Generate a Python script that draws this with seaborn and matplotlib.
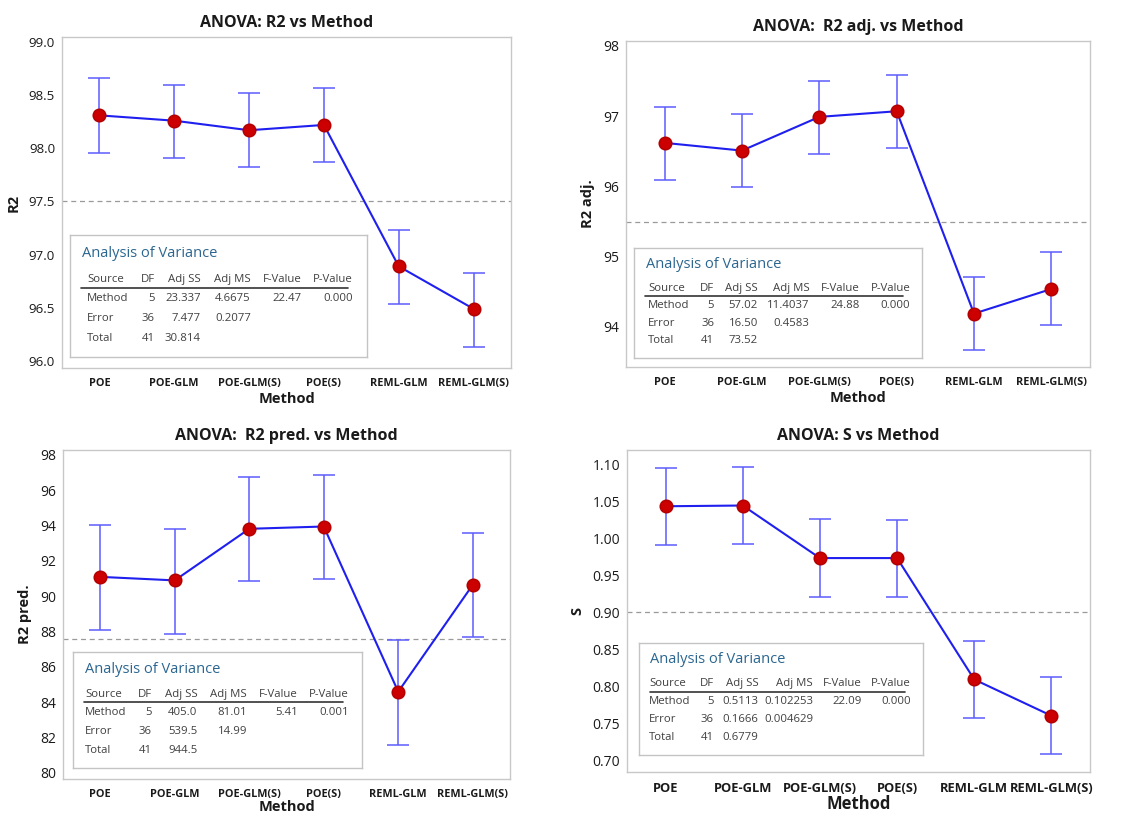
import numpy as np
import matplotlib
matplotlib.use("Agg")
import matplotlib.pyplot as plt
import seaborn as sns

# ---------------- data ----------------
methods = ["POE", "POE-GLM", "POE-GLM(S)", "POE(S)", "REML-GLM", "REML-GLM(S)"]

r2_mean = [98.31, 98.26, 98.17, 98.22, 96.89, 96.49]
r2_lo = [97.96, 97.91, 97.82, 97.87, 96.54, 96.13]
r2_hi = [98.66, 98.60, 98.52, 98.57, 97.23, 96.83]
r2_ref = 97.50

r2adj_mean = [96.62, 96.51, 96.99, 97.07, 94.19, 94.54]
r2adj_lo = [96.09, 95.99, 96.46, 96.54, 93.67, 94.03]
r2adj_hi = [97.13, 97.03, 97.50, 97.58, 94.71, 95.06]
r2adj_ref = 95.50

r2pred_mean = [91.10, 90.90, 93.82, 93.95, 84.60, 90.65]
r2pred_lo = [88.12, 87.88, 90.85, 91.00, 81.60, 87.68]
r2pred_hi = [94.05, 93.82, 96.76, 96.88, 87.55, 93.60]
r2pred_ref = 87.57

s_mean = [1.043, 1.044, 0.973, 0.973, 0.809, 0.760]
s_lo = [0.991, 0.992, 0.921, 0.920, 0.757, 0.708]
s_hi = [1.095, 1.096, 1.026, 1.025, 0.861, 0.812]
s_ref = 0.90

anova_header = ["Source", "DF", "Adj SS", "Adj MS", "F-Value", "P-Value"]
anova_r2 = [["Method", "5", "23.337", "4.6675", "22.47", "0.000"],
            ["Error", "36", "7.477", "0.2077", "", ""],
            ["Total", "41", "30.814", "", "", ""]]
anova_r2adj = [["Method", "5", "57.02", "11.4037", "24.88", "0.000"],
               ["Error", "36", "16.50", "0.4583", "", ""],
               ["Total", "41", "73.52", "", "", ""]]
anova_r2pred = [["Method", "5", "405.0", "81.01", "5.41", "0.001"],
                ["Error", "36", "539.5", "14.99", "", ""],
                ["Total", "41", "944.5", "", "", ""]]
anova_s = [["Method", "5", "0.5113", "0.102253", "22.09", "0.000"],
           ["Error", "36", "0.1666", "0.004629", "", ""],
           ["Total", "41", "0.6779", "", "", ""]]

# ---------------- style ----------------
sns.set_theme(style="white")
plt.rcParams['font.family'] = ['Open Sans', 'DejaVu Sans']

W, H = 1129, 813
fig = plt.figure(figsize=(W / 100, H / 100), dpi=100)

LINE_C = "#1f1fef"
ERR_C = "#5c5cff"
MK_C = "#cc0000"
SPINE_C = "#c8c8c8"
TXT_C = "#1a1a1a"
TAB_TITLE_C = "#2b6690"
TAB_TXT_C = "#404040"


def px_rect(x0, y0, x1, y1):
    return [x0 / W, 1 - y1 / H, (x1 - x0) / W, (y1 - y0) / H]


panels = [
    dict(title="ANOVA: R2 vs Method", ylabel="R2", mean=r2_mean, lo=r2_lo, hi=r2_hi,
         ref=r2_ref, ylim=(95.934, 99.047), yticks=np.arange(96.0, 99.01, 0.5), fmt="{:.1f}",
         rect=(62, 37, 511, 368), tab=(70, 235, 367, 357), rows=anova_r2,
         cols=[0.057, 0.286, 0.441, 0.609, 0.781, 0.953],
         xtick_fs=7.8, ytick_fs=9.5, xlabel_fs=10.5, xlabelpad=2),
    dict(title="ANOVA:  R2 adj. vs Method", ylabel="R2 adj.", mean=r2adj_mean, lo=r2adj_lo,
         hi=r2adj_hi, ref=r2adj_ref, ylim=(93.43, 98.07), yticks=np.arange(94, 98.1, 1),
         fmt="{:.0f}", rect=(626, 41, 1090, 367), tab=(634, 248, 922, 358), rows=anova_r2adj,
         cols=[0.049, 0.278, 0.43, 0.61, 0.785, 0.96],
         xtick_fs=7.8, ytick_fs=10, xlabel_fs=10.5, xlabelpad=2),
    dict(title="ANOVA:  R2 pred. vs Method", ylabel="R2 pred.", mean=r2pred_mean, lo=r2pred_lo,
         hi=r2pred_hi, ref=r2pred_ref, ylim=(79.66, 98.28), yticks=np.arange(80, 98.1, 2),
         fmt="{:.0f}", rect=(63, 450, 510, 779), tab=(73, 652, 362, 768), rows=anova_r2pred,
         cols=[0.042, 0.273, 0.43, 0.602, 0.778, 0.955],
         xtick_fs=7.8, ytick_fs=10, xlabel_fs=10.5, xlabelpad=0),
    dict(title="ANOVA: S vs Method", ylabel="S", mean=s_mean, lo=s_lo, hi=s_hi,
         ref=s_ref, ylim=(0.684, 1.119), yticks=np.arange(0.70, 1.101, 0.05), fmt="{:.2f}",
         rect=(627, 450, 1090, 772), tab=(639, 643, 923, 755), rows=anova_s,
         cols=[0.035, 0.264, 0.42, 0.613, 0.785, 0.958],
         xtick_fs=9.3, ytick_fs=10, xlabel_fs=12, xlabelpad=0),
]

for p in panels:
    ax = fig.add_axes(px_rect(*p["rect"]))
    mean = np.array(p["mean"])
    lo = np.array(p["lo"])
    hi = np.array(p["hi"])
    xpos = np.arange(len(methods))

    ax.axhline(p["ref"], color="#9a9a9a", lw=0.9, ls=(0, (4, 3)), zorder=1)
    ax.errorbar(xpos, mean, yerr=[mean - lo, hi - mean], fmt="none", ecolor=ERR_C,
                elinewidth=1.1, capsize=8, capthick=1.1, zorder=2)
    sns.pointplot(x=methods, y=p["mean"], order=methods, color=LINE_C, errorbar=None,
                  marker="o", markersize=9, markerfacecolor=MK_C, markeredgecolor="#b30000",
                  linewidth=1.5, ax=ax)
    for ln in ax.lines[-1:]:
        ln.set_zorder(3)

    ax.set_xlim(-0.5, len(methods) - 0.5)
    ax.set_ylim(*p["ylim"])
    ax.set_yticks(p["yticks"])
    ax.set_yticklabels([p["fmt"].format(v) for v in p["yticks"]], fontsize=p["ytick_fs"],
                       color=TXT_C)
    ax.set_xticks(xpos)
    ax.set_xticklabels(methods, fontsize=p["xtick_fs"], fontweight="bold", color=TXT_C)
    ax.tick_params(axis="both", direction="out", length=3, width=0.8, color="#888888", pad=2)
    ax.tick_params(axis="x", pad=4)
    for sp in ax.spines.values():
        sp.set_color(SPINE_C)
        sp.set_linewidth(1.0)
    ax.set_title(p["title"], fontsize=11.5, fontweight="bold", color=TXT_C, pad=7)
    ax.set_ylabel(p["ylabel"], fontsize=10.5, fontweight="bold", color=TXT_C, labelpad=6)
    ax.set_xlabel("Method", fontsize=p["xlabel_fs"], fontweight="bold", color=TXT_C,
                  labelpad=p["xlabelpad"])

    # ANOVA table box
    tx = fig.add_axes(px_rect(*p["tab"]))
    tx.set_zorder(5)
    tx.set_facecolor("white")
    tx.set_xticks([])
    tx.set_yticks([])
    for sp in tx.spines.values():
        sp.set_color("#c4c4c4")
        sp.set_linewidth(1.0)
    tx.set_xlim(0, 1)
    tx.set_ylim(0, 1)
    tx.text(0.04, 0.85, "Analysis of Variance", fontsize=10.5, color=TAB_TITLE_C,
            va="center", ha="left")
    col_x = p["cols"]
    row_y = [0.635, 0.48, 0.315, 0.155]
    for j, h in enumerate(anova_header):
        tx.text(col_x[j], row_y[0], h, fontsize=8.2, color=TAB_TXT_C, va="center",
                ha="left" if j == 0 else "right")
    tx.plot([0.037, 0.935], [0.565, 0.565], color="#333333", lw=1.2)
    for i, row in enumerate(p["rows"]):
        for j, v in enumerate(row):
            tx.text(col_x[j], row_y[i + 1], v, fontsize=8.2, color=TAB_TXT_C, va="center",
                    ha="left" if j == 0 else "right")

fig.savefig("out.png", dpi=100)
